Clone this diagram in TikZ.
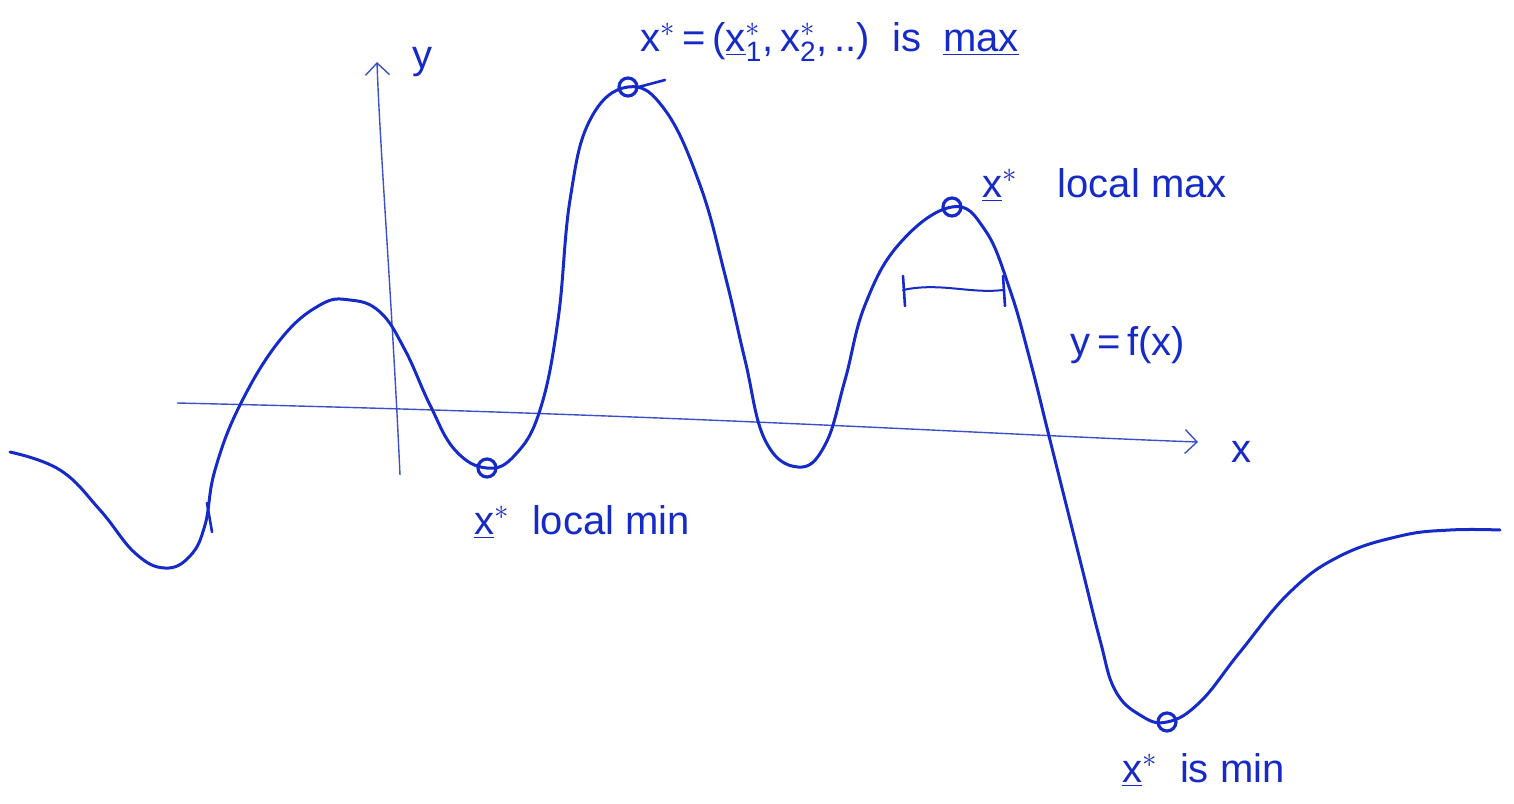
\documentclass[tikz,border=0pt]{standalone}
\usepackage{fontspec}
\setmainfont{Liberation Sans}
\setmathrm{Liberation Sans}
\usetikzlibrary{arrows.meta,calc}
\definecolor{ink}{RGB}{22,42,200}
\definecolor{axisink}{RGB}{60,80,200}
\newcommand{\uxst}{$\underline{\mathrm{x}}^{*}$}
\tikzset{
  curve/.style={ink, line width=1.5pt, line cap=round, line join=round},
  axisline/.style={axisink, line width=0.7pt, -{Straight Barb[length=6pt,width=12pt]}},
  extremum/.style={circle, draw=ink, line width=1.6pt, minimum size=9pt, inner sep=0pt},
  lbl/.style={ink, font=\fontsize{20}{24}\selectfont, inner sep=0pt},
  tick/.style={ink, line width=1.3pt, line cap=round}
}
\begin{document}
\begin{tikzpicture}[x=0.5pt,y=-0.5pt]
\useasboundingbox (0,0) rectangle (1514,803);
% axes
\coordinate (xs) at (177,403);
\coordinate (xe) at (1198,442);
\coordinate (ys) at (400,475);
\coordinate (ye) at (377,62);
\draw[axisline] (xs) .. controls (700,415) and (1000,435) .. (xe);
\draw[axisline] (ys) .. controls (392,300) and (380,150) .. (ye);
\node[lbl] (xl) at (1241,452) {x};
\node[lbl] (yl) at (422,62) {y};
% curve
\draw[curve] plot[smooth, tension=0.7] coordinates {
 (10,452) (60,470) (100,510) (135,553) (165,568) (190,556) (205,525) (215,470)
 (240,405) (280,340) (320,305) (350,300) (380,312) (405,350) (430,405) (455,450)
 (487,468) (515,455) (540,410) (558,320) (570,200) (590,120) (628,87) (665,110)
 (700,185) (725,275) (745,360) (765,440) (798,467) (825,445) (845,380) (865,305)
 (900,243) (952,207) (985,230) (1010,290) (1030,360) (1050,440) (1080,560)
 (1100,640) (1115,690) (1140,715) (1167,722) (1200,702) (1240,652) (1290,592)
 (1340,556) (1400,536) (1450,530) (1500,530)};
\draw[tick] (207,503) -- (212,532);
% extrema
\node[extremum] (gmax) at (628,87) {};
\node[extremum] (lmax) at (952,207) {};
\node[extremum] (lmin) at (487,468) {};
\node[extremum] (gmin) at (1167,722) {};
% labels
\node[lbl, anchor=west] (gmaxl) at (640,42) {$\mathrm{x}^{*}$\,=\,($\underline{\mathrm{x}}^{*}_{\mathrm{1}}$,\,$\mathrm{x}^{*}_{\mathrm{2}}$,\,..)\ \ is\ \ \underline{max}};
\draw[tick] (gmax.east) -- (665,80);
\node[lbl, anchor=west] (lmaxl) at (982,185) {\uxst\quad local max};
\node[lbl, anchor=west] (lminl) at (474,522) {\uxst\ \ local min};
\node[lbl, anchor=west] (gminl) at (1122,770) {\uxst\ \ is min};
\node[lbl] (fl) at (1128,345) {y\,=\,f(x)};
% interval
\coordinate (ia) at (903,290);
\coordinate (ib) at (1003,290);
\draw[tick, line width=1pt] (ia) .. controls (940,282) and (970,294) .. (ib);
\draw[tick] ($(ia)+(0,-14)$) -- ($(ia)+(2,16)$);
\draw[tick] ($(ib)+(0,-14)$) -- ($(ib)+(2,16)$);
\end{tikzpicture}
\end{document}
